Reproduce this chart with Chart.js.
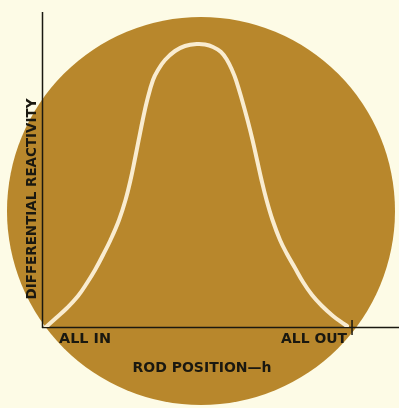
<!DOCTYPE html>
<html lang="en">
<head>
  <meta charset="UTF-8" />
  <title>Differential reactivity vs rod position</title>
  <script src="https://cdn.jsdelivr.net/npm/chart.js"></script>
  <style>
    html, body { margin: 0; padding: 0; background: #fdfbe6; }
    .wrap { width: 399px; height: 408px; position: relative; }
  </style>
</head>
<body>
  <div class="wrap"><canvas id="chart"></canvas></div>
  <script>
    // Rod position h (ALL IN = 0, ALL OUT = 100) and differential reactivity (arbitrary units)
    const rodPosition = [0.97, 4.21, 7.77, 11.33, 14.24, 16.83, 19.42, 21.84, 24.60, 26.70, 28.32, 29.68,
                         30.97, 32.27, 33.72, 35.60, 37.22, 39.48, 42.72, 45.95, 49.84,
                         52.43, 55.02, 57.61, 59.55, 61.17, 62.46, 64.40, 66.18, 67.80, 69.26, 70.71,
                         72.33, 74.27, 76.70, 78.96, 81.55, 84.14, 87.06, 90.29, 93.85, 96.44, 98.38];
    const reactivity = [0, 2.86, 6.03, 9.84, 13.97, 18.10, 22.86, 27.62, 33.97, 40.32, 46.67, 53.02,
                        59.37, 65.71, 72.06, 78.41, 81.59, 84.76, 87.62, 89.21, 89.84,
                        89.68, 88.89, 87.30, 84.76, 81.59, 78.41, 72.06, 65.71, 59.37, 53.02, 46.67,
                        40.32, 33.97, 27.62, 23.17, 18.73, 14.29, 10.16, 6.67, 3.49, 1.59, 0.32];
    const xTicks = [0, 100];
    const xTickLabels = ['ALL IN', 'ALL OUT'];
    const xTitle = 'ROD POSITION\u2014h';
    const yTitle = 'DIFFERENTIAL REACTIVITY';

    const INK = '#1a1810';

    // draw bold text squeezed to a given width (the original lettering is condensed)
    function fitText(ctx, text, x, y, width, angle) {
      ctx.save();
      ctx.font = 'bold 14px "DejaVu Sans"';
      const w = ctx.measureText(text).width;
      ctx.translate(x, y);
      if (angle) ctx.rotate(angle);
      ctx.scale(width / w, 1);
      ctx.fillStyle = INK;
      ctx.textAlign = 'center';
      ctx.textBaseline = 'middle';
      ctx.fillText(text, 0, 0);
      ctx.restore();
    }

    const decor = {
      id: 'decor',
      beforeDraw(chart) {
        const ctx = chart.ctx;
        ctx.save();
        ctx.fillStyle = '#b8872c';
        ctx.beginPath();
        ctx.arc(201, 211, 194, 0, Math.PI * 2);
        ctx.fill();
        ctx.restore();
      },
      beforeDatasetsDraw(chart) {
        const { ctx, chartArea: a, scales: { x, y } } = chart;
        const x0 = x.getPixelForValue(0), y0 = y.getPixelForValue(0);
        ctx.save();
        ctx.strokeStyle = INK;
        ctx.lineWidth = 1.5;
        ctx.beginPath();
        ctx.moveTo(x0 - 0.5, a.top);
        ctx.lineTo(x0 - 0.5, y0 + 1);
        ctx.moveTo(x0 - 1, y0 + 0.5);
        ctx.lineTo(a.right, y0 + 0.5);
        const xt = x.getPixelForValue(xTicks[1]);
        ctx.moveTo(xt, y0 - 7);
        ctx.lineTo(xt, y0 + 8);
        ctx.stroke();
        ctx.restore();

        fitText(ctx, xTickLabels[0], x0 + 42, y0 + 12, 52);
        fitText(ctx, xTickLabels[1], xt - 38, y0 + 12, 66);
        fitText(ctx, xTitle, 202, y0 + 41, 139);
        fitText(ctx, yTitle, x0 - 11, 199, 201, -Math.PI / 2);
      }
    };

    new Chart(document.getElementById('chart'), {
      type: 'scatter',
      data: {
        datasets: [{
          data: rodPosition.map((h, i) => ({ x: h, y: reactivity[i] })),
          showLine: true,
          borderColor: '#f9ecd0',
          borderWidth: 4,
          borderCapStyle: 'round',
          tension: 0.4,
          pointRadius: 0
        }]
      },
      options: {
        responsive: true,
        maintainAspectRatio: false,
        animation: false,
        layout: { padding: { left: 43, right: 0, top: 12, bottom: 81 } },
        plugins: { legend: { display: false }, tooltip: { enabled: false } },
        scales: {
          x: { type: 'linear', display: false, min: 0, max: 115.2 },
          y: { display: false, min: 0, max: 100 }
        }
      },
      plugins: [decor]
    });
  </script>
</body>
</html>
